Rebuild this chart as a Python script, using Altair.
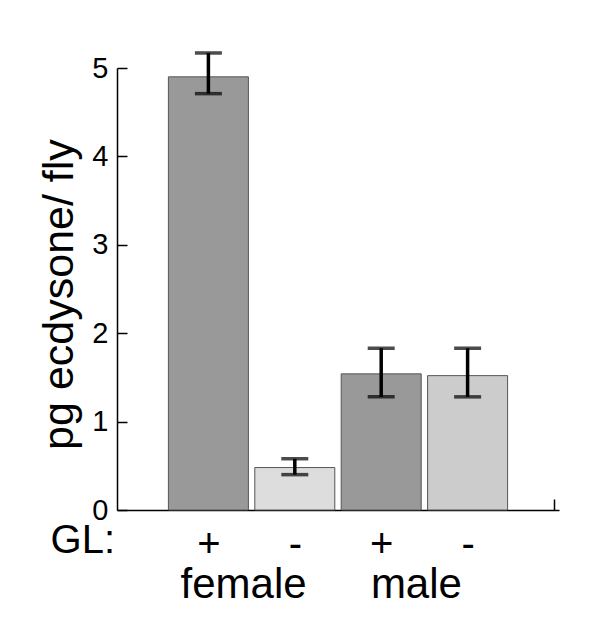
import altair as alt
import pandas as pd

# Data
sex = ["female", "female", "male", "male"]
gl = ["+", "-", "+", "-"]
means = [4.90, 0.48, 1.54, 1.52]
lows = [4.71, 0.40, 1.28, 1.28]
highs = [5.17, 0.58, 1.83, 1.83]
fills = ["#999999", "#dddddd", "#999999", "#cccccc"]
y_ticks = [0, 1, 2, 3, 4, 5]

FONT = "Liberation Sans"

df = pd.DataFrame({
    "pos": list(range(len(sex))),
    "sex": sex,
    "gl": gl,
    "mean": means,
    "lo": lows,
    "hi": highs,
    "fill": fills,
})

groups = df.groupby("sex", sort=False)["pos"].mean().reset_index()

x_scale = alt.Scale(domain=[-1, len(sex)], nice=False, zero=False)
y_scale = alt.Scale(domain=[0, 5], nice=False)

label_expr = "[" + ",".join("'" + g + "'" for g in gl) + "][datum.value]"

bars = alt.Chart(df).mark_bar(size=80, stroke="#555555", strokeWidth=1).encode(
    x=alt.X("pos:Q", scale=x_scale, axis=alt.Axis(
        orient="bottom", values=list(range(len(sex))), labelExpr=label_expr,
        ticks=False, tickSize=0, grid=False, title=None,
        domainColor="black", domainWidth=1.5,
        labelFont=FONT, labelFontSize=40, labelColor="black",
        labelPadding=34, labelBaseline="middle", labelAngle=0)),
    y=alt.Y("mean:Q", scale=y_scale, axis=alt.Axis(
        orient="left", values=y_ticks, ticks=False, tickSize=0, grid=False,
        domainColor="black", domainWidth=1.5,
        labelFont=FONT, labelFontSize=29, labelColor="black", labelPadding=9,
        title="pg ecdysone/ fly", titleFont=FONT, titleFontSize=43,
        titleFontWeight="normal", titleColor="black",
        titleAngle=270, titleX=-45, titleY=226,
        titleAlign="center", titleBaseline="alphabetic")),
    fill=alt.Fill("fill:N", scale=None),
)

stems = alt.Chart(df).mark_rule(color="black", strokeWidth=3.5).encode(
    x=alt.X("pos:Q", scale=x_scale, axis=alt.Axis(
        orient="bottom", values=[len(sex)], offset=-11, tickSize=11,
        tickColor="black", tickWidth=1.5, domain=False, labels=False,
        grid=False, title=None)),
    y=alt.Y("lo:Q", scale=y_scale, axis=alt.Axis(
        orient="left", values=y_ticks, offset=-10, tickSize=10,
        tickColor="black", tickWidth=1.5, domain=False, labels=False,
        grid=False, title=None)),
    y2="hi:Q",
)

caps_lo = alt.Chart(df).mark_tick(color="black", size=27, thickness=3.5,
                                   orient="horizontal").encode(
    x=alt.X("pos:Q", scale=x_scale, axis=None),
    y=alt.Y("lo:Q", scale=y_scale, axis=None),
)
caps_hi = alt.Chart(df).mark_tick(color="black", size=27, thickness=3.5,
                                   orient="horizontal").encode(
    x=alt.X("pos:Q", scale=x_scale, axis=None),
    y=alt.Y("hi:Q", scale=y_scale, axis=None),
)

group_text = alt.Chart(groups).mark_text(
    font=FONT, fontSize=42, color="black", align="center",
    baseline="alphabetic", dx=-8).encode(
    x=alt.X("pos:Q", scale=x_scale, axis=None),
    y=alt.value(530),
    text="sex:N",
)

gl_text = alt.Chart(pd.DataFrame({"t": ["GL:"]})).mark_text(
    font=FONT, fontSize=40, color="black", align="right",
    baseline="alphabetic").encode(
    x=alt.value(-2),
    y=alt.value(485),
    text="t:N",
)

chart = alt.layer(bars, stems, caps_lo, caps_hi, group_text, gl_text).resolve_axis(
    x="independent", y="independent"
).resolve_scale(x="shared", y="shared").properties(
    width=442, height=442,
    autosize=alt.AutoSizeParams(type="none"),
    padding={"left": 109, "top": 60, "right": 33, "bottom": 120},
    background="white",
).configure_view(stroke=None)

chart.save("out.html", embed_options={"renderer": "svg", "actions": False})
